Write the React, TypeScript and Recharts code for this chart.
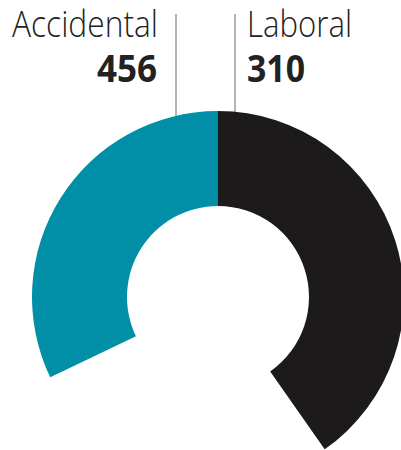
import React from 'react';
import { PieChart, Pie, Cell } from 'recharts';

const categories = ['Accidental', 'Laboral'];
const totals = [456, 310];
// share of the ring each slice occupies in the picture (degrees of arc)
const arcShares = [115.6, 145];
const sliceColors = ['#008fa6', '#1c1a1a'];

const data = categories.map((name, i) => ({ name, total: totals[i], arc: arcShares[i] }));

const W = 401;
const H = 450;
const CX = 218;
const CY = 297;
const R_OUT = 186;
const R_IN = 91;

const labelFont = '"Open Sans", "Noto Sans", sans-serif';

export default function App() {
  const ringTopAt = (x: number) => CY - Math.sqrt(R_OUT * R_OUT - (x - CX) * (x - CX));
  return (
    <div style={{ position: 'absolute', left: 0, top: 0, width: W, height: H, background: '#fff' }}>
      <PieChart width={W} height={H} margin={{ top: 0, right: 0, bottom: 0, left: 0 }}>
        <g>
          <line x1={176} y1={14} x2={176} y2={ringTopAt(176) + 2} stroke="#8c8c8c" strokeWidth={1.3} />
          <line x1={235} y1={14} x2={235} y2={ringTopAt(235) + 2} stroke="#8c8c8c" strokeWidth={1.3} />
          <text x={158} y={37} textAnchor="end" fontFamily={labelFont} fontWeight={300} fontSize={37}
            fill="#222" textLength={146} lengthAdjust="spacingAndGlyphs">{categories[0]}</text>
          <text x={157} y={82} textAnchor="end" fontFamily={labelFont} fontWeight={700} fontSize={37}
            fill="#222" textLength={60} lengthAdjust="spacingAndGlyphs">{totals[0]}</text>
          <text x={247} y={37} textAnchor="start" fontFamily={labelFont} fontWeight={300} fontSize={37}
            fill="#222" textLength={105} lengthAdjust="spacingAndGlyphs">{categories[1]}</text>
          <text x={247} y={82} textAnchor="start" fontFamily={labelFont} fontWeight={700} fontSize={37}
            fill="#222" textLength={58} lengthAdjust="spacingAndGlyphs">{totals[1]}</text>
        </g>
        <Pie
          data={data}
          dataKey="arc"
          nameKey="name"
          cx={CX}
          cy={CY}
          innerRadius={R_IN}
          outerRadius={R_OUT}
          startAngle={205.6}
          endAngle={-55}
          stroke="none"
          paddingAngle={0}
          isAnimationActive={false}
        >
          {data.map((d, i) => (
            <Cell key={d.name} fill={sliceColors[i]} />
          ))}
        </Pie>
      </PieChart>
    </div>
  );
}
